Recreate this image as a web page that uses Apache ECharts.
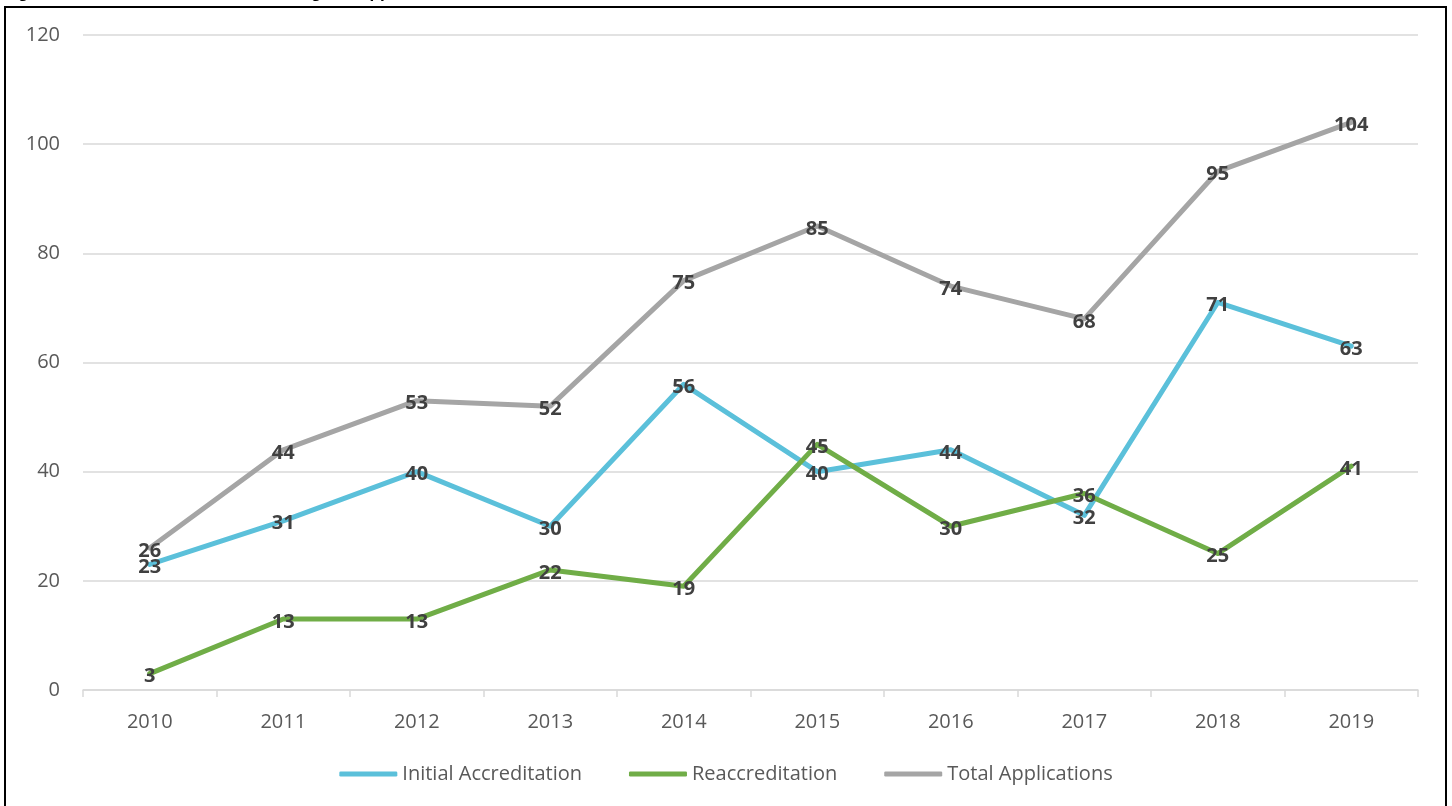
<!DOCTYPE html>
<html>
<head>
<meta charset="utf-8">
<script src="https://cdn.jsdelivr.net/npm/echarts@6/dist/echarts.min.js"></script>
<style>
html,body{margin:0;padding:0;background:#fff;}
#c{width:1452px;height:806px;}
</style>
</head>
<body>
<div id="c"></div>
<script>
var years = ['2010','2011','2012','2013','2014','2015','2016','2017','2018','2019'];
var initialAccreditation = [23,31,40,30,56,40,44,32,71,63];
var reaccreditation = [3,13,13,22,19,45,30,36,25,41];
var totalApplications = [26,44,53,52,75,85,74,68,95,104];
var yTicks = {min:0, max:120, interval:20};
var titleText = 'Figure 1: Number of Accreditation Program Applications Received';

var FONT = '"Open Sans", "Noto Sans", sans-serif';
var chart = echarts.init(document.getElementById('c'));

function mk(name, data, color, z) {
  return {
    name: name, type: 'line', data: data, z: z,
    symbol: 'circle', symbolSize: 2, showSymbol: true,
    lineStyle: {color: color, width: 5, cap: 'round', join: 'round'},
    itemStyle: {color: color},
    label: {
      show: true, position: 'inside', offset: [0, 3], color: '#404040',
      fontFamily: FONT, fontWeight: 'bold', fontSize: 20
    }
  };
}

chart.setOption({
  animation: false,
  backgroundColor: '#fff',
  graphic: [
    {type:'rect', shape:{x:5, y:7, width:1441, height:810}, style:{fill:'none', stroke:'#000', lineWidth:2}, z:100},
    {type:'text', left:3, top:-15, style:{text:titleText, font:'bold 17px "Liberation Sans", sans-serif', fill:'#000'}}
  ],
  grid: {left:83, right:34, top:35, bottom:116, containLabel:false},
  legend: {
    bottom: 17, left: 'center',
    itemWidth: 58, itemHeight: 5, itemGap: 47,
    icon: 'roundRect',
    textStyle: {color:'#595959', fontFamily: FONT, fontSize: 20},
    data: ['Initial Accreditation','Reaccreditation','Total Applications']
  },
  xAxis: {
    type:'category', data: years, boundaryGap: true,
    axisLine: {lineStyle:{color:'#D9D9D9', width:1.5}},
    axisTick: {show:true, length:7, lineStyle:{color:'#D9D9D9', width:1.5}},
    axisLabel: {color:'#595959', fontFamily: FONT, fontSize: 20, margin: 22}
  },
  yAxis: {
    type:'value', min: yTicks.min, max: yTicks.max, interval: yTicks.interval,
    axisLine:{show:false}, axisTick:{show:false},
    splitLine:{lineStyle:{color:'#D9D9D9', width:1.5}},
    axisLabel:{color:'#595959', fontFamily: FONT, fontSize: 20, margin: 23}
  },
  series: [
    mk('Initial Accreditation', initialAccreditation, '#5BC0DA', 3),
    mk('Reaccreditation', reaccreditation, '#70AD47', 4),
    mk('Total Applications', totalApplications, '#A5A5A5', 2)
  ]
});
</script>
</body>
</html>
